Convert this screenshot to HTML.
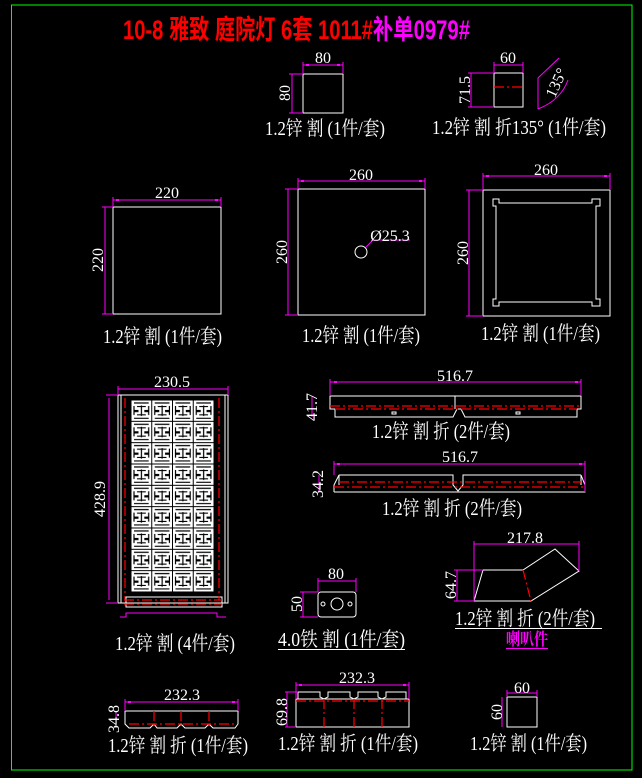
<!DOCTYPE html>
<html><head><meta charset="utf-8"><style>
html,body{margin:0;padding:0;background:#000;}
svg{display:block}
text{font-family:"Liberation Serif","Noto Serif CJK SC","Noto Sans CJK SC",serif;fill:#fff}
.c{font-size:20px}
.d{font-size:16px}
.t{font-family:"Liberation Sans","Noto Sans CJK SC",sans-serif;font-weight:bold;font-size:27px}
</style></head><body>
<svg width="642" height="778" viewBox="0 0 642 778" xmlns="http://www.w3.org/2000/svg">
<defs>
<pattern id="fret" x="131" y="400" width="20.75" height="21.33" patternUnits="userSpaceOnUse">
<rect x="0.5" y="0.5" width="19.75" height="20.33" fill="#fff"/>
<g stroke="#000" stroke-width="1.2" fill="none">
<path d="M3 3H17.7M3 18.3H17.7M10.4 5.5V16M6 6.5H14.8M6 14.8H14.8M3 6V10.5H7.5M17.7 6V10.5H13.3M3 15V11.5H7.5M17.7 15V11.5H13.3"/>
</g>
</pattern>
</defs>
<rect x="11.5" y="5" width="620.5" height="765" fill="none" stroke="#0f0" stroke-width="1"/>
<!-- title -->
<text class="t" x="123" y="39" style="fill:#f00" textLength="250" lengthAdjust="spacingAndGlyphs">10-8 雅致 庭院灯 6套 1011#</text>
<text class="t" x="373" y="39" style="fill:#f0f" textLength="97" lengthAdjust="spacingAndGlyphs">补单0979#</text>

<g fill="none" stroke="#fff" stroke-width="1">
<rect x="303" y="74" width="40" height="39"/>
<rect x="494" y="73" width="29" height="34"/>
<path d="M538 109V78L559 58M538 109Q561 100 568 80" stroke="#f0f"/>
<rect x="113" y="207" width="108" height="107"/>
<rect x="298" y="189" width="127" height="126"/>
<circle cx="361" cy="252" r="6"/>
<rect x="483" y="190" width="127" height="126"/>
<path d="M493 199H499V203H592V199H600V206H596V299H600V306H592V302H499V306H493V299H496V206H493Z"/>
<rect x="118" y="395" width="110" height="208"/>
<path d="M121 395V603M225 395V603M126 597H222V607H126Z"/>
<path d="M330 396H581V409L577 409V417H465L461 409H457L453 417H335V409H330Z"/>
<path d="M455 396V409"/>
<rect x="392" y="412" width="4" height="2"/><rect x="516" y="412" width="4" height="2"/>
<path d="M334 492H585V485L581 475V485M334 492V485L339 475V485M339 475H453V485L458 491L463 485V475H581"/>
<path d="M474 601L483 570H523L555 549L579 571L531 601Z"/>
<rect x="318" y="592" width="38" height="25" rx="3"/>
<circle cx="337" cy="604" r="6"/><circle cx="323" cy="604" r="2"/><circle cx="350" cy="604" r="2"/>
<path d="M125 711H238V724L235 728H213L209 724L205 728H185L181 724L177 728H157L154 724L150 728H129L125 724Z"/>
<path d="M296 699H409V727H296Z M298 699V692H320V697L324 699L328 697V692H350V697L354 699L358 697V692H378V697L382 699L386 697V692H406V699"/>
<rect x="507" y="697" width="30" height="30"/>
</g>

<rect x="131" y="400" width="83" height="192" fill="url(#fret)"/>

<g stroke="#f00" stroke-width="1.2" fill="none" stroke-dasharray="10 3 2 3">
<path d="M494 87H523"/>
<path d="M125 398V600M219 398V600M124 600H222M124 604H222"/>
<path d="M330 406H581M335 409H577"/>
<path d="M339 482H581M334 487H585"/>
<path d="M523 570L531 601"/>
<path d="M154 711V728M181 711V728M209 711V728M129 724H235"/>
<path d="M324 699V727M354 699V727M382 699V727M296 701H409"/>
</g>

<g stroke="#f0f" stroke-width="1" fill="none">
<path d="M303 65H343M303 62V74M343 62V74M292 74V113M289 74H303M289 113H303"/>
<path d="M494 65H523M494 62V73M523 62V73M471 73V107M468 73H494M468 107H494"/>
<path d="M113 200H221M113 197V207M221 197V207M105 207V314M102 207H113M102 314H113"/>
<path d="M298 181H425M298 178V189M425 178V189M288 189V315M285 189H298M285 315H298"/>
<path d="M366 247L373 240H410"/>
<path d="M483 176H610M483 173V190M610 173V190M469 190V316M466 190H483M466 316H483"/>
<path d="M118 389H228M118 386V395M228 386V395M109 398V600M106 395H118M106 603H118"/>
<path d="M120 617H126V613H217V617H226"/>
<path d="M330 382H581M330 379V396M581 379V396M312 396V417"/>
<path d="M334 464H585M334 461V475M585 461V492M319 475V492"/>
<path d="M474 544H579M474 541V601M579 541V571M457 570V601M454 570H483M454 601H474"/>
<path d="M318 581H356M318 578V592M356 578V592M303 592V617M300 592H318M300 617H318"/>
<path d="M125 702H238M125 699V711M238 699V711M116 711V728"/>
<path d="M296 685H409M296 682V699M409 682V699M287 692V727M285 692H298M285 727H296"/>
<path d="M507 693H537M507 690V697M537 690V697M502 697V727"/>
</g>
<g fill="#f0f">
<rect x="306" y="64" width="3" height="2"/><rect x="337" y="64" width="3" height="2"/>
<rect x="116" y="199" width="3" height="2"/><rect x="215" y="199" width="3" height="2"/>
<rect x="301" y="180" width="3" height="2"/><rect x="419" y="180" width="3" height="2"/>
<rect x="486" y="175" width="3" height="2"/><rect x="604" y="175" width="3" height="2"/>
<rect x="334" y="381" width="3" height="2"/><rect x="575" y="381" width="3" height="2"/>
<rect x="337" y="463" width="3" height="2"/><rect x="579" y="463" width="3" height="2"/>
<rect x="128" y="701" width="3" height="2"/><rect x="232" y="701" width="3" height="2"/>
<rect x="299" y="684" width="3" height="2"/><rect x="403" y="684" width="3" height="2"/>
</g>

<g class="d" text-anchor="middle">
<text x="323" y="63">80</text>
<text x="508" y="63">60</text>
<text x="167" y="198">220</text>
<text x="361" y="180">260</text>
<text x="546" y="175">260</text>
<text x="172" y="387">230.5</text>
<text x="455" y="381">516.7</text>
<text x="460" y="462">516.7</text>
<text x="525" y="543">217.8</text>
<text x="336" y="579">80</text>
<text x="182" y="700">232.3</text>
<text x="357" y="683">232.3</text>
<text x="522" y="693">60</text>
<text x="390" y="241">Ø25.3</text>
<text transform="translate(290,93) rotate(-90)">80</text>
<text transform="translate(470,90) rotate(-90)">71.5</text>
<text transform="translate(103,260) rotate(-90)">220</text>
<text transform="translate(287,252) rotate(-90)">260</text>
<text transform="translate(468,253) rotate(-90)">260</text>
<text transform="translate(105,499) rotate(-90)">428.9</text>
<text transform="translate(317,407) rotate(-90)">41.7</text>
<text transform="translate(323,484) rotate(-90)">34.2</text>
<text transform="translate(456,585) rotate(-90)">64.7</text>
<text transform="translate(302,604) rotate(-90)">50</text>
<text transform="translate(119,719) rotate(-90)">34.8</text>
<text transform="translate(287,712) rotate(-90)">69.8</text>
<text transform="translate(502,712) rotate(-90)">60</text>
<text transform="translate(561,85) rotate(-65)">135°</text>
</g>

<g class="c">
<text x="265" y="135" textLength="120" lengthAdjust="spacingAndGlyphs">1.2锌 割 (1件/套)</text>
<text x="432" y="134" textLength="174" lengthAdjust="spacingAndGlyphs">1.2锌 割 折135° (1件/套)</text>
<text x="103" y="343" textLength="119" lengthAdjust="spacingAndGlyphs">1.2锌 割 (1件/套)</text>
<text x="302" y="342" textLength="118" lengthAdjust="spacingAndGlyphs">1.2锌 割 (1件/套)</text>
<text x="481" y="340" textLength="119" lengthAdjust="spacingAndGlyphs">1.2锌 割 (1件/套)</text>
<text x="372" y="438" textLength="138" lengthAdjust="spacingAndGlyphs">1.2锌 割 折 (2件/套)</text>
<text x="382" y="515" textLength="140" lengthAdjust="spacingAndGlyphs">1.2锌 割 折 (2件/套)</text>
<text x="115" y="650" textLength="120" lengthAdjust="spacingAndGlyphs">1.2锌 割 (4件/套)</text>
<text x="278" y="646" textLength="127" lengthAdjust="spacingAndGlyphs">4.0铁 割 (1件/套)</text>
<text x="455" y="625" textLength="140" lengthAdjust="spacingAndGlyphs">1.2锌 割 折 (2件/套)</text>
<text x="108" y="752" textLength="140" lengthAdjust="spacingAndGlyphs">1.2锌 割 折 (1件/套)</text>
<text x="278" y="750" textLength="140" lengthAdjust="spacingAndGlyphs">1.2锌 割 折 (1件/套)</text>
<text x="470" y="750" textLength="117" lengthAdjust="spacingAndGlyphs">1.2锌 割 (1件/套)</text>
<text x="506" y="645" font-size="17" font-weight="bold" style="fill:#f0f" textLength="42" lengthAdjust="spacingAndGlyphs">喇叭件</text>
</g>
<g stroke="#fff" stroke-width="1">
<path d="M278 649.5H405M455 628.5H602"/>
</g>
<path d="M506 648.5H548" stroke="#f0f" stroke-width="1"/>
</svg>
</body></html>
